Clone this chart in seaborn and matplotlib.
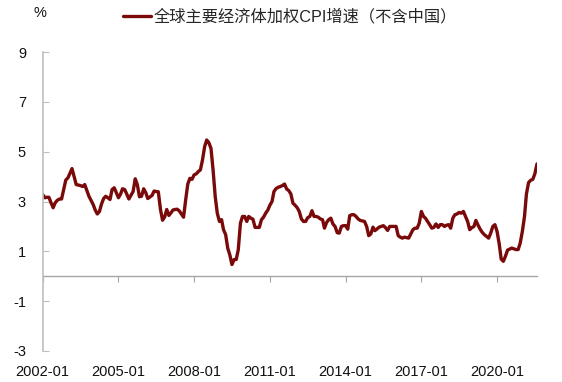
import numpy as np
import pandas as pd
import matplotlib
matplotlib.use('Agg')
import matplotlib.pyplot as plt
import seaborn as sns

# 全球主要经济体加权CPI增速（不含中国），月度，2002-01 起
cpi = [
    3.28, 3.15, 3.17, 3.17, 2.95, 2.75, 2.95, 3.05, 3.10, 3.10,
    3.48, 3.86, 3.95, 4.15, 4.32, 4.00, 3.68, 3.66, 3.64, 3.60,
    3.68, 3.45, 3.21, 3.05, 2.88, 2.65, 2.50, 2.60, 2.90, 3.12,
    3.21, 3.15, 3.08, 3.48, 3.55, 3.35, 3.15, 3.30, 3.51, 3.48,
    3.30, 3.10, 3.25, 3.40, 3.91, 3.68, 3.19, 3.21, 3.51, 3.35,
    3.12, 3.18, 3.24, 3.42, 3.40, 3.39, 2.68, 2.25, 2.38, 2.68,
    2.44, 2.55, 2.66, 2.68, 2.69, 2.62, 2.50, 2.37, 3.07, 3.70,
    3.93, 3.89, 4.07, 4.11, 4.20, 4.27, 4.67, 5.20, 5.47, 5.36,
    5.13, 4.27, 3.20, 2.53, 2.20, 2.27, 1.87, 1.67, 1.13, 0.85,
    0.47, 0.67, 0.67, 1.07, 2.13, 2.40, 2.40, 2.20, 2.40, 2.33,
    2.29, 1.96, 1.96, 1.96, 2.27, 2.37, 2.53, 2.65, 2.85, 3.00,
    3.40, 3.52, 3.57, 3.60, 3.64, 3.70, 3.50, 3.44, 3.30, 2.93,
    2.85, 2.75, 2.60, 2.30, 2.20, 2.20, 2.35, 2.40, 2.63, 2.40,
    2.40, 2.37, 2.30, 2.27, 1.93, 2.16, 2.27, 2.33, 2.10, 2.00,
    1.75, 1.73, 2.00, 2.03, 2.03, 1.89, 2.43, 2.47, 2.47, 2.40,
    2.30, 2.24, 2.22, 2.20, 2.00, 1.63, 1.70, 1.97, 1.83, 1.90,
    1.97, 2.00, 2.03, 1.95, 1.84, 2.00, 2.00, 2.00, 2.00, 1.63,
    1.57, 1.53, 1.57, 1.55, 1.53, 1.70, 1.87, 1.93, 1.93, 2.13,
    2.60, 2.40, 2.33, 2.20, 2.07, 1.93, 1.96, 2.10, 1.96, 2.07,
    2.07, 2.00, 2.05, 2.07, 1.93, 2.33, 2.47, 2.50, 2.56, 2.53,
    2.60, 2.40, 2.20, 1.87, 1.95, 2.00, 2.24, 2.05, 1.89, 1.76,
    1.67, 1.60, 1.53, 1.73, 2.00, 2.07, 1.80, 1.30, 0.69, 0.60,
    0.80, 1.05, 1.09, 1.13, 1.10, 1.07, 1.07, 1.33, 1.80, 2.40,
    3.30, 3.76, 3.85, 3.89, 4.11, 4.51,
]
start_month = '2002-01'
x_ticks = ['2002-01', '2005-01', '2008-01', '2011-01', '2014-01', '2017-01', '2020-01']
y_ticks = [-3, -1, 1, 3, 5, 7, 9]
series_name = '全球主要经济体加权CPI增速（不含中国）'

dates = pd.date_range(start_month, periods=len(cpi), freq='MS')
df = pd.DataFrame({'date': dates, 'cpi': cpi})

sns.set_style('white')
plt.rcParams['font.family'] = ['Liberation Sans', 'Noto Sans CJK SC', 'DejaVu Sans']

fig = plt.figure(figsize=(5.62, 3.82), dpi=100)
ax = fig.add_axes([42.7 / 562, 31 / 382, (537 - 42.7) / 562, 299 / 382])

line_color = '#7A0A0A'
sns.lineplot(data=df, x='date', y='cpi', ax=ax, color=line_color,
             linewidth=2.4, label=series_name, legend=False)

ax.set_xlim(dates[0], dates[-1])
ax.set_ylim(y_ticks[0], y_ticks[-1])
ax.set_yticks(y_ticks)
ax.set_yticklabels([str(v) for v in y_ticks])
ax.set_xlabel('')
ax.set_ylabel('')

for s in ['top', 'right', 'bottom']:
    ax.spines[s].set_visible(False)
ax.spines['left'].set_color('#BFBFBF')
ax.spines['left'].set_linewidth(1.2)

# 标签放在底部，不画刻度线
tick_dates = pd.to_datetime(x_ticks)
ax.set_xticks(tick_dates)
ax.set_xticklabels(x_ticks)
ax.tick_params(axis='x', length=0, labelsize=10.5, colors='#111111', pad=10)
ax.tick_params(axis='y', direction='in', length=4, width=0.8, color='#BFBFBF',
               labelsize=10.5, labelcolor='#111111', pad=12, left=True)

# 零轴与刻度
sec = ax.secondary_xaxis((0 - y_ticks[0]) / (y_ticks[-1] - y_ticks[0]))
sec.set_xticks(tick_dates)
sec.tick_params(axis='x', direction='out', length=4, width=0.8, color='#A6A6A6',
                labelbottom=False)
sec.spines['bottom'].set_color('#A6A6A6')
sec.spines['bottom'].set_linewidth(1.0)

fig.text(40 / 562, 1 - 13 / 382, '%', ha='center', va='center',
         fontsize=10.5, color='#111111')

handles, labels = ax.get_legend_handles_labels()
fig.legend(handles, labels, loc='center left', bbox_to_anchor=(123 / 562, 1 - 17 / 382),
           frameon=False, fontsize=11.7, handlelength=1.7, handletextpad=0.2,
           borderaxespad=0, borderpad=0)

fig.savefig('out.png', dpi=100)
